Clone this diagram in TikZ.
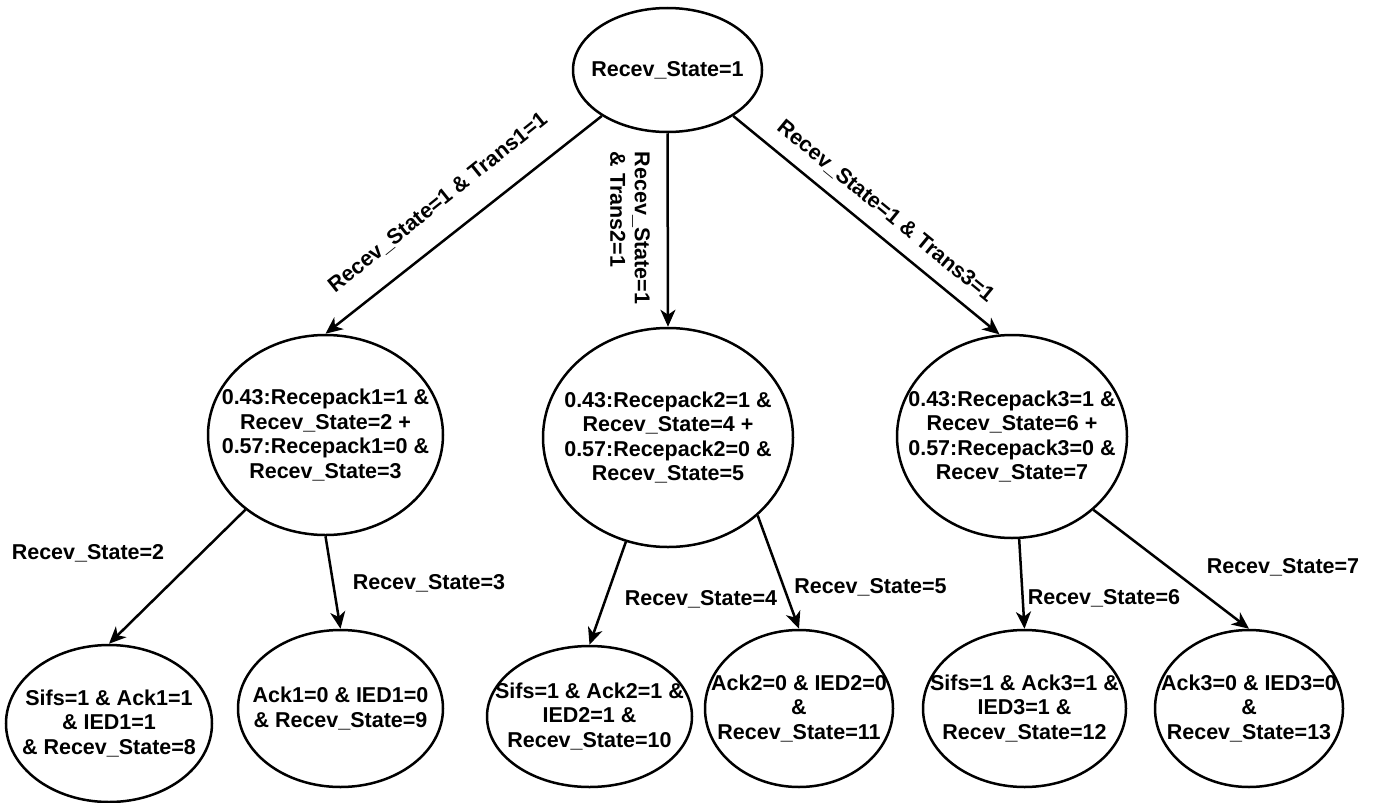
\documentclass[tikz,border=0pt]{standalone}
\usepackage{fontspec}
\setmainfont{Liberation Sans}
\usetikzlibrary{shapes.geometric,arrows.meta}

\begin{document}
\begin{tikzpicture}[x=1pt,y=1pt,
  every node/.style={font=\fontsize{21.5}{24.5}\selectfont\bfseries},
  state/.style={draw, ellipse, line width=2.5pt, inner sep=0pt},
  txt/.style={align=center, inner sep=0pt},
  flow/.style={line width=2.5pt, -{Stealth[length=17pt,width=15pt,inset=5pt]}},
  cond/.style={inner sep=0pt},
]
\useasboundingbox (0,0) rectangle (1376,-803);

% initial state
\node[state, minimum width=189, minimum height=124,
  label={[txt]center:{Recev\_State=1}}] (top) at (667.5,-70) {};

% reception outcome states
\node[state, minimum width=235, minimum height=200,
  label={[txt]center:{0.43:Recepack1=1 \&\\Recev\_State=2 +\\0.57:Recepack1=0 \&\\Recev\_State=3}}] (m1) at (325.5,-435) {};
\node[state, minimum width=250, minimum height=219,
  label={[txt]center:{0.43:Recepack2=1 \&\\Recev\_State=4 +\\0.57:Recepack2=0 \&\\Recev\_State=5}}] (m2) at (668,-437.5) {};
\node[state, minimum width=230, minimum height=203,
  label={[txt]center:{0.43:Recepack3=1 \&\\Recev\_State=6 +\\0.57:Recepack3=0 \&\\Recev\_State=7}}] (m3) at (1012,-436.5) {};

% final states
\node[state, minimum width=206, minimum height=157,
  label={[txt]center:{Sifs=1 \& Ack1=1\\\& IED1=1\\\& Recev\_State=8}}] (b1) at (109,-723.5) {};
\node[state, minimum width=205, minimum height=157,
  label={[txt]center:{Ack1=0 \& IED1=0\\\& Recev\_State=9}}] (b2) at (340.5,-708.5) {};
\node[state, minimum width=205, minimum height=141,
  label={[txt]center:{Sifs=1 \& Ack2=1 \&\\IED2=1 \&\\Recev\_State=10}}] (b3) at (589.5,-716.5) {};
\node[state, minimum width=188, minimum height=157,
  label={[txt]center:{Ack2=0 \& IED2=0\\\&\\Recev\_State=11}}] (b4) at (799,-708.5) {};
\node[state, minimum width=203, minimum height=157,
  label={[txt]center:{Sifs=1 \& Ack3=1 \&\\IED3=1 \&\\Recev\_State=12}}] (b5) at (1024.5,-708.5) {};
\node[state, minimum width=188, minimum height=157,
  label={[txt]center:{Ack3=0 \& IED3=0\\\&\\Recev\_State=13}}] (b6) at (1249,-708.5) {};

% transitions
\draw[flow] (top.215) -- (m1.north);
\draw[flow] (top.south) -- (m2.north);
\draw[flow] (top.325) -- (m3.97);
\draw[flow] (m1.223) -- (b1.north);
\draw[flow] (m1.south) -- (b2.north);
\draw[flow] (m2.248) -- (b3.north);
\draw[flow] (m2.319) -- (b4.north);
\draw[flow] (m3.274) -- (b5.north);
\draw[flow] (m3.318) -- (b6.north);

% transition conditions
\node[cond, rotate=38.7] (c1) at (438,-203) {Recev\_State=1 \& Trans1=1};
\node[cond, rotate=-90, align=left] (c2) at (630,-228) {Recev\_State=1\\\& Trans2=1};
\node[cond, rotate=-39.4] (c3) at (885.5,-211.5) {Recev\_State=1 \& Trans3=1};
\node[cond] (c4) at (88,-553) {Recev\_State=2};
\node[cond] (c5) at (429,-583) {Recev\_State=3};
\node[cond] (c6) at (701,-599) {Recev\_State=4};
\node[cond] (c7) at (870.5,-587) {Recev\_State=5};
\node[cond] (c8) at (1104,-598) {Recev\_State=6};
\node[cond] (c9) at (1283,-567) {Recev\_State=7};
\end{tikzpicture}
\end{document}
